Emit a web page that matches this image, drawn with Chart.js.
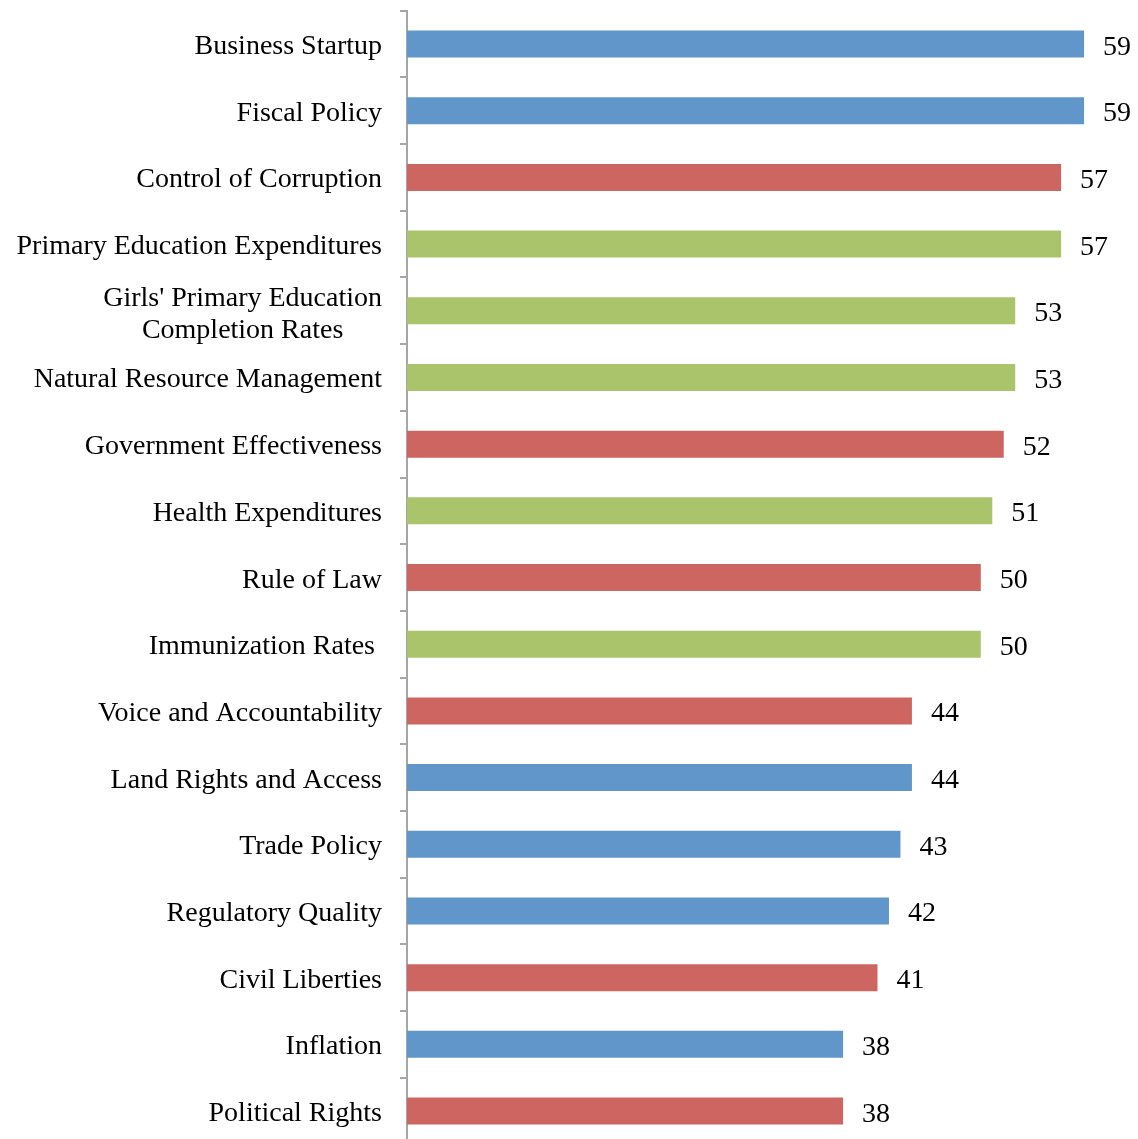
<!DOCTYPE html>
<html>
<head>
<meta charset="utf-8">
<script src="https://cdn.jsdelivr.net/npm/chart.js@4/dist/chart.umd.min.js"></script>
<style>
  html, body { margin: 0; padding: 0; background: #ffffff; overflow: hidden; }
  #wrap { width: 1138px; height: 1145px; position: relative; }
</style>
</head>
<body>
<div id="wrap"><canvas id="c"></canvas></div>
<script>
const categories = [
  "Business Startup",
  "Fiscal Policy",
  "Control of Corruption",
  "Primary Education Expenditures",
  ["Girls' Primary Education", "Completion Rates"],
  "Natural Resource Management",
  "Government Effectiveness",
  "Health Expenditures",
  "Rule of Law",
  "Immunization Rates ",
  "Voice and Accountability",
  "Land Rights and Access",
  "Trade Policy",
  "Regulatory Quality",
  "Civil Liberties",
  "Inflation",
  "Political Rights"
];
const values = [59, 59, 57, 57, 53, 53, 52, 51, 50, 50, 44, 44, 43, 42, 41, 38, 38];
const groups = ["econ", "econ", "gov", "soc", "soc", "soc", "gov", "soc", "gov", "soc", "gov", "econ", "econ", "econ", "gov", "econ", "gov"];
const groupColors = { econ: "#6096c9", gov: "#cd6660", soc: "#a9c46b" };

const FONT = "28px 'Liberation Serif', 'Times New Roman', serif";

const labelPlugin = {
  id: "labels",
  afterDraw(chart) {
    const ctx = chart.ctx;
    const yScale = chart.scales.y;
    ctx.save();
    ctx.font = FONT;
    ctx.fillStyle = "#000000";
    ctx.textBaseline = "alphabetic";
    const rightEdge = yScale.right - 25;
    categories.forEach((lab, i) => {
      const lines = Array.isArray(lab) ? lab : [lab];
      const yc = yScale.getPixelForValue(i);
      const maxW = Math.max(...lines.map(l => ctx.measureText(l).width));
      const cx = rightEdge - maxW / 2;
      const lh = 31.7;
      const extra = lines.length > 1 ? 1.5 : 0;
      ctx.textAlign = "center";
      lines.forEach((l, k) => {
        const y = yc + (k - (lines.length - 1) / 2) * lh + 10 + extra;
        ctx.fillText(l, cx, y);
      });
    });
    const meta = chart.getDatasetMeta(0);
    ctx.textAlign = "left";
    meta.data.forEach((bar, i) => {
      ctx.fillText(String(values[i]), bar.x + 19, bar.y + 10.5);
    });
    ctx.restore();
  }
};

new Chart(document.getElementById("c"), {
  type: "bar",
  data: {
    labels: categories,
    datasets: [{
      data: values,
      backgroundColor: groups.map(g => groupColors[g]),
      borderWidth: 0,
      categoryPercentage: 1.0,
      barPercentage: 0.405
    }]
  },
  options: {
    indexAxis: "y",
    responsive: true,
    maintainAspectRatio: false,
    animation: false,
    events: [],
    layout: { padding: { left: 0, right: 19.5, top: 10.7, bottom: 0.6 } },
    plugins: {
      legend: { display: false },
      tooltip: { enabled: false }
    },
    scales: {
      x: {
        display: false,
        min: 0,
        max: 62
      },
      y: {
        afterFit(scale) { scale.width = 407; },
        border: { display: true, color: "#a6a6a6", width: 2 },
        grid: {
          offset: true,
          drawOnChartArea: false,
          drawTicks: true,
          tickLength: 7,
          color: "#a6a6a6",
          lineWidth: 2
        },
        ticks: {
          display: false,
          autoSkip: false
        }
      }
    }
  },
  plugins: [labelPlugin]
});
</script>
</body>
</html>
